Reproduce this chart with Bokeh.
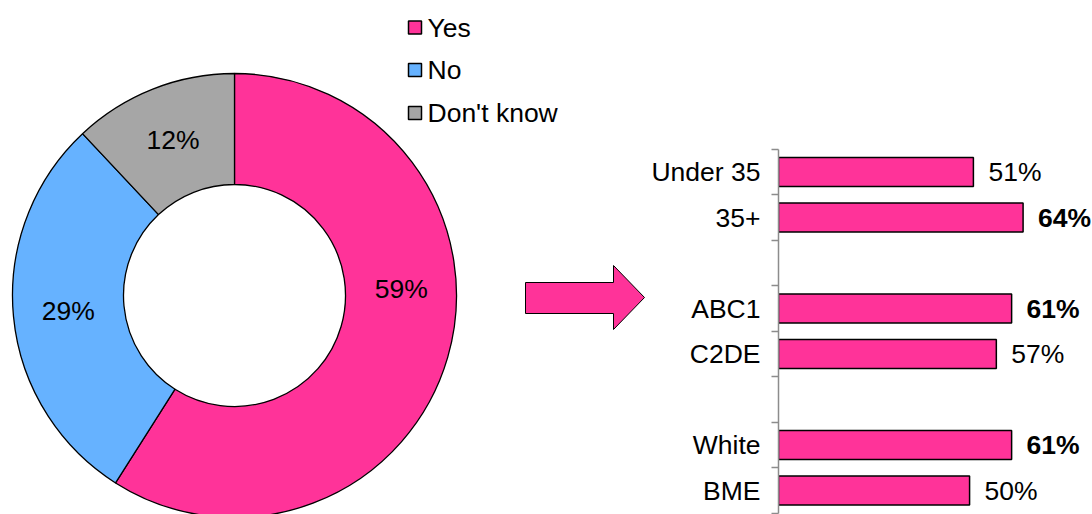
import numpy as np
from bokeh.plotting import figure
from bokeh.layouts import row
from bokeh.models import Range1d, FixedTicker, ColumnDataSource, LinearAxis
from bokeh.core.properties import value
from bokeh.embed import file_html
from bokeh.resources import INLINE

# ---------------- data ----------------
donut_labels = ["Yes", "No", "Don't know"]
donut_values = [59, 29, 12]
donut_colors = ["#FF3399", "#66B2FF", "#A6A6A6"]

bar_groups = [["Under 35", "35+"], ["ABC1", "C2DE"], ["White", "BME"]]
bar_values = [51, 64, 61, 57, 61, 50]

# ---------------- styles ----------------
FONT = value("Liberation Sans")
FONT_NAME = "Liberation Sans"
FS = "26.5px"
PINK = "#FF3399"

# ---------------- left: donut + legend + arrow ----------------
W_TOTAL, H = 1092, 514
W1 = 648
left = figure(width=W1, height=H, x_range=Range1d(0, W1), y_range=Range1d(0, H),
              output_backend="svg", toolbar_location=None, x_axis_type=None, y_axis_type=None,
              min_border=0, outline_line_color=None)
left.grid.visible = False

TOP = H  # data y = TOP - screen y
cx, cy = 234, TOP - 295
r_in, r_out = 111, 222

vals = np.array(donut_values, dtype=float)
frac = vals / vals.sum()
cum = np.cumsum(frac)
start = np.pi / 2 - 2 * np.pi * cum
end = np.pi / 2 - 2 * np.pi * (cum - frac)

src = ColumnDataSource(dict(start=start, end=end, color=donut_colors, label=donut_labels))
left.annular_wedge(x=cx, y=cy, inner_radius=r_in, outer_radius=r_out,
                   start_angle="start", end_angle="end", direction="anticlock",
                   fill_color="color", line_color="black", line_width=1.3, source=src)

label_nudge_deg = np.array([18.6, 0.0, 0.0])
mid = (start + end) / 2 + np.deg2rad(label_nudge_deg)
r_lab = 167
lab_src = ColumnDataSource(dict(x=cx + r_lab * np.cos(mid), y=cy + r_lab * np.sin(mid),
                                text=[f"{v}%" for v in donut_values]))
left.text(x="x", y="y", text="text", source=lab_src, text_align="center",
          text_baseline="middle", text_font=FONT, text_font_size=FS, text_color="black")

# legend
leg_y = TOP - np.array([27, 69.5, 112.5])
leg_src = ColumnDataSource(dict(x=[414.5] * 3, tx=[427] * 3, y=leg_y, color=donut_colors, label=donut_labels))
left.rect(x="x", y="y", width=13, height=13, fill_color="color", line_color="black",
          line_width=1.5, source=leg_src)
left.text(x="tx", y="y", text="label", source=leg_src, text_align="left", text_baseline="middle",
          text_font=FONT, text_font_size=FS, text_color="black")

# arrow
ax_pts = [(525, 282), (613, 282), (613, 265), (644, 297), (613, 329), (613, 313), (525, 313)]
left.patch(x=[p[0] for p in ax_pts], y=[TOP - p[1] for p in ax_pts],
           fill_color=PINK, line_color="black", line_width=1)

# ---------------- right: bar chart ----------------
names, slots = [], []
slot = 0
for gi, grp in enumerate(reversed(bar_groups)):
    for name in reversed(grp):
        names.append(name)
        slots.append(slot)
        slot += 1
    slot += 1
names = names[::-1]
slots = slots[::-1]
top_slot = max(slots)

slot_px = 45.5
ctr_bot = 490
y0 = -(H - ctr_bot) / slot_px
y1 = ctr_bot / slot_px

W2 = W_TOTAL - W1
BORDER_L = 776 - W1
px_per_unit = 3.846
right = figure(width=W2, height=H, x_range=Range1d(0, (W2 - BORDER_L) / px_per_unit),
               y_range=Range1d(y0, y1), output_backend="svg", toolbar_location=None,
               x_axis_type=None, y_axis_type=None, min_border_left=BORDER_L,
               min_border_right=0, min_border_top=0, min_border_bottom=0, outline_line_color=None)
right.grid.visible = False

overall_yes = donut_values[0]
bsrc = ColumnDataSource(dict(y=slots, v=bar_values, text=[f"{v}%" for v in bar_values],
                             style=["bold" if v > overall_yes else "normal" for v in bar_values]))
right.hbar(y="y", left=0, right="v", height=0.64, fill_color=PINK, line_color="black",
           line_width=1.5, source=bsrc)
right.text(x="v", y="y", text="text", x_offset=15, text_align="left", text_baseline="middle",
           text_font=FONT, text_font_size=FS, text_font_style="style", text_color="black", source=bsrc)

boundaries = [s + 0.5 for s in range(-1, top_slot + 1)]
yaxis = LinearAxis(ticker=FixedTicker(ticks=slots, minor_ticks=boundaries),
                   major_label_overrides={s: n for s, n in zip(slots, names)},
                   major_tick_out=0, major_tick_in=0, major_tick_line_color=None,
                   minor_tick_out=7, minor_tick_in=0, minor_tick_line_color="#8C8C8C",
                   minor_tick_line_width=1.5,
                   axis_line_color="#8C8C8C", axis_line_width=1.5,
                   bounds=(-0.5, top_slot + 0.5),
                   major_label_text_font=FONT_NAME, major_label_text_font_size=FS,
                   major_label_text_color="black", major_label_standoff=11)
right.add_layout(yaxis, "left")

layout = row(left, right)
open("out.html", "w").write(file_html(layout, INLINE))
